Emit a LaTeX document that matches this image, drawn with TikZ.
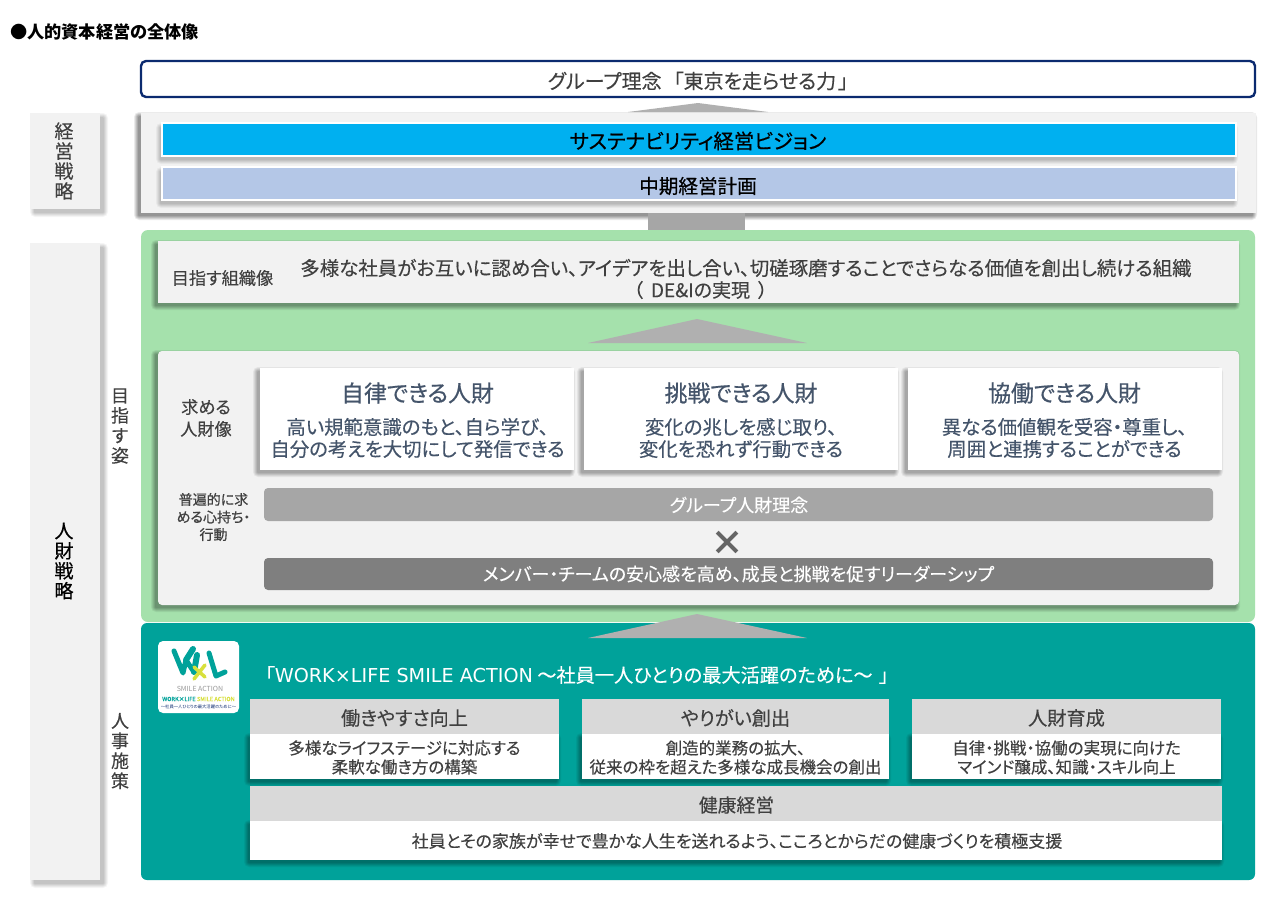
\documentclass[tikz,border=0pt]{standalone}
\usepackage{fontspec}
\setmainfont{Noto Sans CJK JP}[RawFeature={+palt},FakeBold=0.25]
\newfontfamily\strongf{Noto Sans CJK JP}[RawFeature={+palt},FakeBold=0.6]
\newfontfamily\plainf{Noto Sans CJK JP}[RawFeature={+palt}]
\newfontfamily\latf{DejaVu Sans}
\usetikzlibrary{calc}
\definecolor{navy}{HTML}{0B2A6F}
\definecolor{panel}{HTML}{F2F2F2}
\definecolor{sky}{HTML}{00B0F0}
\definecolor{pale}{HTML}{B4C7E7}
\definecolor{leaf}{HTML}{A5E1AC}
\definecolor{teal}{HTML}{00A29A}
\definecolor{midg}{HTML}{A6A6A6}
\definecolor{darkg}{HTML}{7F7F7F}
\definecolor{headg}{HTML}{D9D9D9}
\definecolor{ink}{HTML}{404040}
\definecolor{slate}{HTML}{44546A}
\definecolor{arrowg}{HTML}{B0B0B0}
\definecolor{logoy}{HTML}{D8E03C}
\newcommand{\fsz}[2]{\fontsize{#1pt}{#2pt}\selectfont}
% name, x1, y1, x2, y2, node options, dx, dy, shadow strength
\newcommand{\softbox}[9]{%
  \foreach \e/\o in {4/0.08,3/0.09,2/0.10,1/0.11,0/0.12}{%
    \fill[black,opacity=\o*#9,rounded corners=\e+1]
      ($(#2,#3)+(#7,#8)+(-\e,-\e)$) rectangle ($(#4,#5)+(#7,#8)+(\e,\e)$);
  }%
  \flatbox{#1}{#2}{#3}{#4}{#5}{#6}%
}
\newcommand{\flatbox}[6]{%
  \pgfmathsetmacro{\bw}{#4-(#2)}\pgfmathsetmacro{\bh}{#5-(#3)}%
  \node[bx,minimum width=\bw,minimum height=\bh,#6] (#1) at ({(#2+#4)/2},{(#3+#5)/2}) {};%
}
\tikzset{
  x=1pt,y=-1pt,
  bx/.style={rectangle,draw=none,inner sep=0pt,outer sep=0pt},
  lbl/.style={align=center,inner sep=0pt,text=ink},
  tri/.style={fill=arrowg,draw=none},
  sidebox/.style={fill=panel},
  whitebar/.style={fill=#1,draw=white,line width=2pt},
  card/.style={fill=white},
  hd/.style={fill=headg},
  logostroke/.style={draw=#1,line width=5pt,line join=round,line cap=round},
}
\begin{document}
\begin{tikzpicture}
\useasboundingbox (0,0) rectangle (1274,900);
\fill[white] (0,0) rectangle (1274,900);

\node[anchor=west,inner sep=0pt,text=black,font=\fsz{17.2}{20}\plainf\bfseries] (title) at (10,32) {●人的資本経営の全体像};

% philosophy
\flatbox{philo}{141}{61}{1255}{97}{fill=white,draw=navy,line width=2.4pt,rounded corners=5}
\node[lbl,font=\fsz{20}{22}] (philot) at (698,81) {グループ理念\hspace{12pt}「東京を走らせる力\hspace{2pt}」};
\fill[tri] (628,112) -- (698,103) -- (768,112) -- cycle;

% side labels
\softbox{sideA}{30}{113}{100}{209}{sidebox}{4}{4}{0.5}
\softbox{sideB}{30}{243}{100}{880}{sidebox}{4}{4}{0.5}
\node[lbl,font=\fsz{19}{20}] (sideAt) at (64,161) {経\\営\\戦\\略};
\node[lbl,text=black,font=\fsz{19}{20}\strongf] (sideBt) at (64,561) {人\\財\\戦\\略};
\node[lbl,font=\fsz{18}{20}] (goalt) at (120,426) {目\\指\\す\\姿};
\node[lbl,font=\fsz{18}{20}] (hrt) at (120,751) {人\\事\\施\\策};

% strategy
\softbox{strat}{141}{113}{1256}{213}{fill=panel}{-3}{3}{1.0}
\softbox{vision}{162}{123}{1236}{156}{whitebar=sky}{-2}{4}{0.5}
\softbox{plan}{162}{167}{1236}{200}{whitebar=pale}{-2}{4}{0.5}
\node[lbl,text=black,font=\fsz{20.4}{22}\strongf] (visiont) at (698,141) {サステナビリティ経営ビジョン};
\node[lbl,text=black,font=\fsz{19.6}{22}\strongf] (plant) at (698,186) {中期経営計画};
\fill[midg] (648,213) rectangle (745,231);

% green
\flatbox{green}{141}{230}{1255}{622}{fill=leaf,rounded corners=7}
\softbox{org}{158}{241}{1239}{303}{fill=panel}{-3}{3}{0.8}
\node[lbl,font=\fsz{17.2}{20}] (orgl) at (222.5,278) {目指す組織像};
\node[lbl,font=\fsz{19.45}{22}] (orgt) at (746,268) {多様な社員がお互いに認め合い、アイデアを出し合い、切磋琢磨することでさらなる価値を創出し続ける組織};
\node[lbl,font=\fsz{19}{22}] (orgu) at (700.5,290) {（\hspace{8pt}DE\&Iの実現\hspace{8pt}）};
\fill[tri] (588,343) -- (697,319) -- (807,343) -- cycle;

\softbox{talent}{158}{351}{1239}{605}{fill=panel,rounded corners=4}{-3}{3}{0.8}
\node[lbl,font=\fsz{17.2}{22}] (talentl) at (206,418) {求める\\人財像};
\softbox{c1}{260}{368}{574}{470}{card}{-3}{3}{0.7}
\softbox{c2}{584}{368}{898}{470}{card}{-3}{3}{0.7}
\softbox{c3}{908}{368}{1222}{470}{card}{-3}{3}{0.7}
\foreach \n/\cx/\h/\a/\b in {
  a/417.5/自律できる人財/高い規範意識のもと、自ら学び、/自分の考えを大切にして発信できる,
  b/741/挑戦できる人財/変化の兆しを感じ取り、/変化を恐れず行動できる,
  c/1064.5/協働できる人財/異なる価値観を受容・尊重し、/周囲と連携することができる}{
  \node[lbl,text=slate,font=\fsz{22.9}{24}\strongf] (h\n) at (\cx,393) {\h};
  \node[lbl,text=slate,font=\fsz{19.4}{22}] (t\n) at (\cx,438) {\a\\\b};
}
\node[lbl,font=\fsz{14}{17.5}\strongf] (univ) at (213.5,517) {普遍的に求\\める心持ち・\\行動};
\flatbox{bar1}{264}{488}{1213}{521}{fill=midg,rounded corners=4}
\node[lbl,text=white,font=\fsz{18}{20}] (bar1t) at (739,505) {グループ人財理念};
\node[lbl,text=darkg!80!black,font=\fsz{34}{34}\plainf\bfseries] (times) at (727,543) {×};
\flatbox{bar2}{264}{558}{1213}{590}{fill=darkg,rounded corners=4}
\node[lbl,text=white,font=\fsz{18}{20}] (bar2t) at (738.5,574) {メンバー・チームの安心感を高め、成長と挑戦を促すリーダーシップ};

% teal
\flatbox{tealb}{141}{623}{1255}{880}{fill=teal,rounded corners=6}
\fill[tri] (588,638) -- (697,614) -- (807,638) -- cycle;
\flatbox{logo}{158}{641}{239}{713}{fill=white,rounded corners=5}
% logo art
\draw[logostroke=teal] (174,651) -- (183,673) -- (186,660) -- (194,672);
\draw[logostroke=teal,line width=6pt] (186,660) -- (193,649);
\draw[logostroke=teal,line width=6pt] (194,672) -- (197,655);
\draw[logostroke=teal,line width=5pt] (209,653) -- (216,676) -- (225,672);
\draw[logostroke=logoy,line width=3.5pt] (194,667) -- (205,677) (205,665) -- (194,679);
\node[inner sep=0pt,text=black!40,font=\fsz{7}{8}\plainf] (logoS) at (200,688.5) {SMILE ACTION};
\node[inner sep=0pt,font=\fsz{5.7}{6}\strongf] (logoA) at (198.5,699) {\textcolor{teal}{WORK×LIFE} \textcolor{logoy}{SMILE ACTION}};
\node[inner sep=0pt,text=navy,font=\fsz{4.3}{5}\plainf] (logoB) at (198.5,706.5) {〜社員一人ひとりの最大活躍のために〜};

\node[anchor=west,inner sep=0pt,text=white,font=\fsz{19.2}{24}] (slogan) at (265,675) {「{\latf\fontsize{19.2pt}{24pt}\selectfont WORK×LIFE SMILE ACTION} 〜社員一人ひとりの最大活躍のために〜 \hspace{2pt}」};

\foreach \n/\xa/\xb/\h/\a/\b in {
  p/250/559/働きやすさ向上/多様なライフステージに対応する/柔軟な働き方の構築,
  q/582/889/やりがい創出/創造的業務の拡大、/従来の枠を超えた多様な成長機会の創出,
  r/912/1221/人財育成/自律・挑戦・協働の実現に向けた/マインド醸成、知識・スキル向上}{
  \softbox{b\n}{\xa}{734}{\xb}{779}{card}{-2}{3}{0.7}
  \flatbox{h\n}{\xa}{699}{\xb}{734}{hd}
  \pgfmathsetmacro{\cxx}{(\xa+\xb)/2}
  \node[lbl,font=\fsz{19.2}{20}] (ht\n) at (\cxx,718) {\h};
  \node[lbl,font=\fsz{16.5}{19}] (bt\n) at (\cxx,757.5) {\a\\\b};
}
\softbox{bs}{250}{821}{1222}{860}{card}{-2}{3}{0.7}
\flatbox{hs}{250}{786}{1222}{821}{hd}
\node[lbl,font=\fsz{18.8}{20}] (hts) at (736.5,805) {健康経営};
\node[lbl,font=\fsz{17}{19}] (bts) at (737,841) {社員とその家族が幸せで豊かな人生を送れるよう、こころとからだの健康づくりを積極支援};
\end{tikzpicture}
\end{document}
